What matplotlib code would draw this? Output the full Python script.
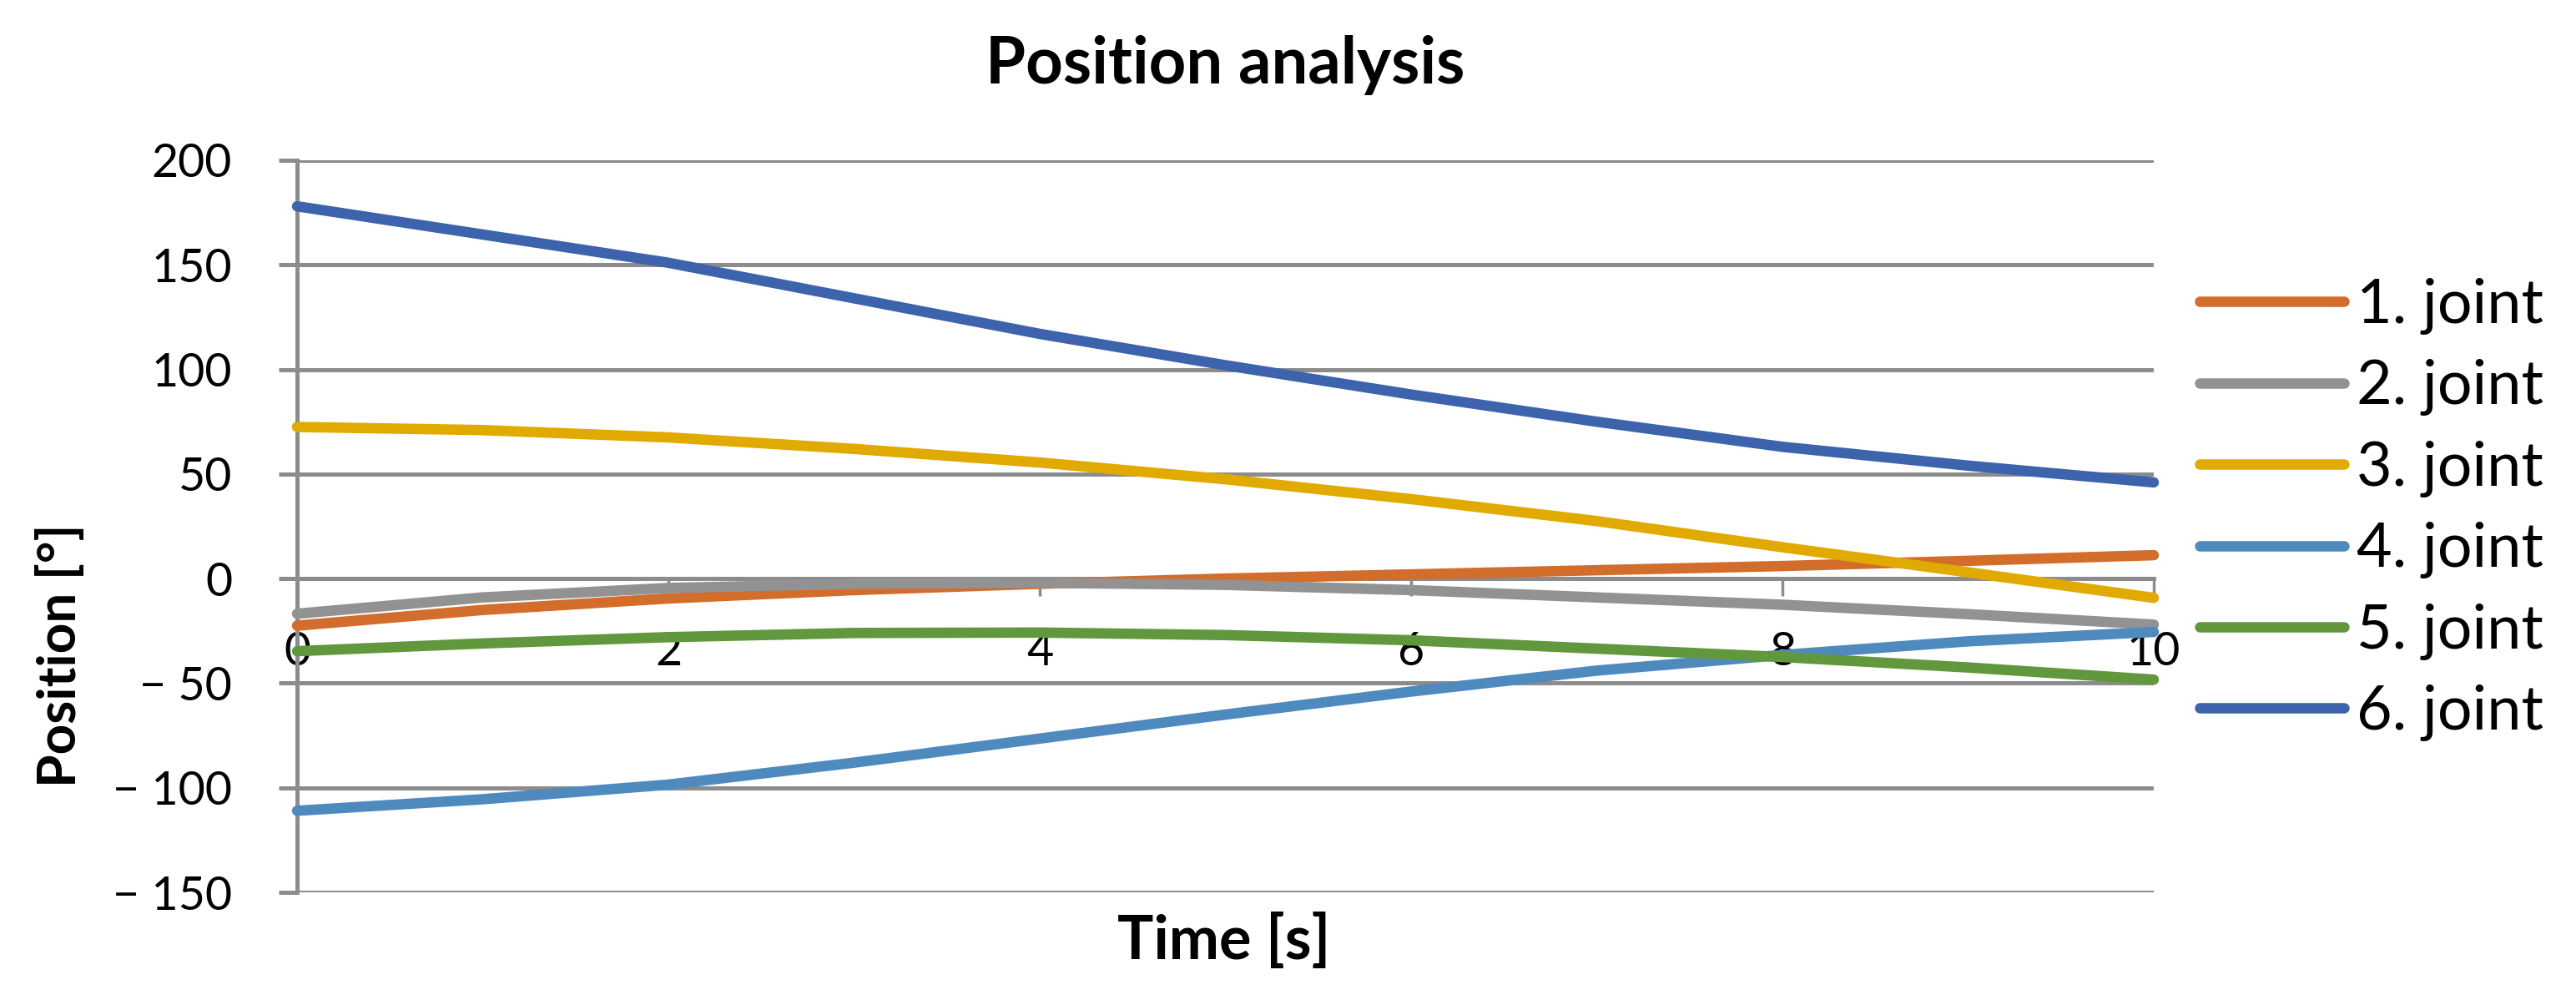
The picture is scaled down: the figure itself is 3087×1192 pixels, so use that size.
import matplotlib
matplotlib.use("Agg")
import matplotlib.pyplot as plt

plt.rcParams['font.family'] = ['Lato', 'DejaVu Sans']

# time axis [s]
time = [0, 1, 2, 3, 4, 5, 6, 7, 8, 9, 10]

# joint positions [deg]
joint1 = [-22.5, -15, -9.5, -5.5, -2.5, 0, 2, 4, 6, 8.5, 11.2]
joint2 = [-16.8, -9, -4.5, -2.5, -2, -3, -5.5, -9, -12.5, -17, -22]
joint3 = [72.5, 71, 67.5, 62, 55.5, 47.5, 38, 27.5, 15, 3, -9.2]
joint4 = [-111, -105.5, -98.5, -88, -76.5, -65, -54, -44, -36.5, -30, -25.5]
joint5 = [-34.7, -31, -28, -26, -25.8, -27, -29.5, -33.5, -37.5, -42.5, -48.3]
joint6 = [178, 164.5, 151, 134, 117, 102, 88, 75, 63, 54, 46]

labels = ['1. joint', '2. joint', '3. joint', '4. joint', '5. joint', '6. joint']
colors = ['#D26D2B', '#929292', '#E1AA00', '#4F8ABE', '#61983E', '#3C63AC']

yticks = [-150, -100, -50, 0, 50, 100, 150, 200]
ytick_labels = ['\u2212 150', '\u2212 100', '\u2212 50', '0', '50', '100', '150', '200']
xticks = [0, 2, 4, 6, 8, 10]

grid_color = '#8C8C8C'

fig = plt.figure(figsize=(30.87, 11.92), dpi=100)
ax = fig.add_axes([356 / 3087, 1 - 1069 / 1192, (2581 - 356) / 3087, (1069 - 192) / 1192])

for y, lab, c in zip([joint1, joint2, joint3, joint4, joint5, joint6], labels, colors):
    ax.plot(time, y, color=c, lw=9, label=lab, solid_capstyle='round',
            solid_joinstyle='round', clip_on=False, zorder=3)

ax.set_xlim(0, 10)
ax.set_ylim(-150, 200)
ax.set_xticks(xticks)
ax.set_xticklabels([str(t) for t in xticks])
ax.set_yticks(yticks)
ax.set_yticklabels(ytick_labels)

# horizontal gridlines, excel-like grey axes
ax.yaxis.grid(True, color=grid_color, lw=3.6, zorder=0)
ax.set_axisbelow(True)
for s in ['top', 'right']:
    ax.spines[s].set_visible(False)
ax.spines['bottom'].set_position(('data', 0))
for s in ['left', 'bottom']:
    ax.spines[s].set_color(grid_color)
    ax.spines[s].set_linewidth(3.6)
    ax.spines[s].set_zorder(1)

ax.tick_params(axis='y', direction='out', length=16, width=3.6, color=grid_color,
               labelsize=40, pad=40)
ax.tick_params(axis='x', direction='out', length=15, width=2.5, color=grid_color,
               labelsize=40, pad=30)

ax.set_title('Position analysis', fontsize=56, fontweight='bold', pad=66)
fig.text(1467 / 3087, 1 - 1128 / 1192, 'Time [s]', fontsize=52, fontweight='bold',
         ha='center', va='center')
fig.text(72 / 3087, 1 - 785 / 1192, 'Position [\u00b0]', fontsize=46, fontweight='bold',
         ha='center', va='center', rotation=90)

fig.legend(loc='upper left', bbox_to_anchor=(2636 / 3087, 1 - 333 / 1192),
           frameon=False, fontsize=53, handlelength=2.35, handletextpad=0.2,
           labelspacing=0.40, borderpad=0, borderaxespad=0)

fig.savefig('out.png', dpi=100)
